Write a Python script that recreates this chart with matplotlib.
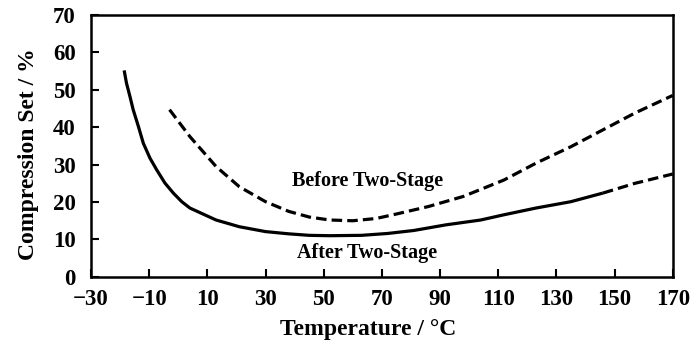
import matplotlib
matplotlib.use("Agg")
import matplotlib.pyplot as plt
import numpy as np

plt.rcParams["font.family"] = ["Liberation Serif", "DejaVu Serif"]

# Compression set vs temperature
temp_before = [-3, 4, 13, 21, 30, 38, 45, 52, 60, 68, 75, 86, 98, 112, 123, 135, 146, 157, 170]
set_before = [44.7, 37.5, 29.5, 24.1, 20.1, 17.5, 16.0, 15.2, 15.0, 15.6, 16.8, 18.8, 21.5, 25.9, 30.4, 34.8, 39.3, 43.8, 48.5]

temp_after = [-18.6, -17.8, -16.6, -15.5, -13.7, -12.0, -9.7, -7.4, -4.6, -1.7, 1.2, 4, 13, 21, 30,
              38, 45, 52, 63, 72, 81, 92, 104, 112, 123, 135, 146, 157, 170]
set_after = [55.2, 51.8, 48.2, 44.7, 40.2, 35.7, 31.7, 28.6, 25.1, 22.4, 20.1, 18.4, 15.2, 13.4, 12.1,
             11.5, 11.1, 11.0, 11.1, 11.6, 12.4, 13.9, 15.2, 16.6, 18.4, 20.1, 22.4, 25.0, 27.5]

x_ticks = [-30, -10, 10, 30, 50, 70, 90, 110, 130, 150, 170]
y_ticks = [0, 10, 20, 30, 40, 50, 60, 70]

fig = plt.figure(figsize=(7, 3.5), dpi=100)
ax = fig.add_axes([0.13, 0.209, 0.831, 0.748])

lw = 2.3
dash = (3.3, 1.6)
ax.plot(temp_before, set_before, color="black", lw=lw, linestyle=(0, dash))

# the lower curve is drawn solid, with its last stretch dashed
t_a = np.array(temp_after)
s_a = np.array(set_after)
split = 146
ax.plot(t_a[t_a <= split], s_a[t_a <= split], color="black", lw=lw,
        solid_capstyle="butt", solid_joinstyle="round")
ax.plot(t_a[t_a >= split], s_a[t_a >= split], color="black", lw=lw, linestyle=(0, dash))

ax.text(65, 25.5, "Before Two-Stage", ha="center", va="center",
        fontsize=14.5, fontweight="bold")
ax.text(65, 6.5, "After Two-Stage", ha="center", va="center",
        fontsize=14.5, fontweight="bold")

ax.set_xlim(-30, 170)
ax.set_ylim(0, 70)
ax.set_xticks(x_ticks)
ax.set_yticks(y_ticks)
ax.tick_params(direction="in", length=6, width=1.5, labelsize=16.5, top=False, right=False)
ax.tick_params(axis="x", pad=9)
ax.tick_params(axis="y", pad=11)
for lab in ax.get_xticklabels() + ax.get_yticklabels():
    lab.set_fontweight("bold")
for s in ax.spines.values():
    s.set_linewidth(1.8)

ax.set_xlabel("Temperature / \u00b0C", fontsize=17, fontweight="bold")
ax.set_ylabel("Compression Set / %", fontsize=17, fontweight="bold")
ax.xaxis.set_label_coords(0.476, -0.16)
ax.yaxis.set_label_coords(-0.089, 0.47)

fig.savefig("out.png", dpi=100)
